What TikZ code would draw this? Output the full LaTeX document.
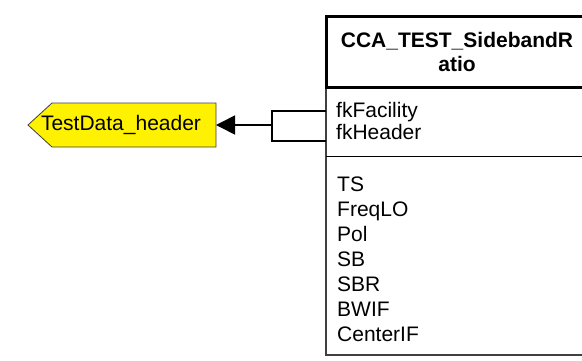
\documentclass[tikz,border=0pt]{standalone}
\usepackage{fontspec}
\setmainfont{Liberation Sans}
\usetikzlibrary{arrows.meta}
\begin{document}
\begin{tikzpicture}[x=1pt,y=-1pt,
  every node/.style={font=\fontsize{21}{24}\selectfont, inner sep=0pt},
  attr/.style={anchor=base west},
  tabline/.style={draw=black!75, line width=1.2pt},
  hdrline/.style={draw=black, line width=3pt},
  relline/.style={draw=black, line width=1.6pt},
]
\useasboundingbox (0,0) rectangle (582,360);
% table body
\draw[tabline] (326,87) -- (326,355) -- (592,355);
\draw[draw=black, line width=1pt] (326,156) -- (592,156);
\draw[hdrline] (592,16) -- (326,16) -- (326,87) -- (592,87);
\node[font=\bfseries\fontsize{21}{24}\selectfont, align=center, text width=250pt] (title) at (457,52) {CCA\_TEST\_SidebandR\\atio};
% key attributes
\node[attr] (fkf) at (336,117.5) {fkFacility};
\node[attr] (fkh) at (336,139) {fkHeader};
% attributes
\node[attr] (ts) at (337,191.5) {TS};
\node[attr] (freq) at (337,216.5) {FreqLO};
\node[attr] (pol) at (337,241.5) {Pol};
\node[attr] (sb) at (337,266.5) {SB};
\node[attr] (sbr) at (337,291.5) {SBR};
\node[attr] (bwif) at (337,316.5) {BWIF};
\node[attr] (cif) at (337,341.5) {CenterIF};
% referenced table
\draw[fill=yellow, draw=black!75, line width=0.8pt] (28,125) -- (52,103) -- (216,103) -- (216,147) -- (52,147) -- cycle;
\node (hdr) at (121,125) {TestData\_header};
\coordinate (hdrE) at (216,125);
% relationship
\coordinate (relT) at (326,111);
\coordinate (relB) at (326,141);
\coordinate (rel) at (272,125);
\draw[relline] (relT) -- (272,111) -- (272,141) -- (relB);
\draw[relline, -{Triangle[length=19pt,width=19pt]}] (rel) -- (hdrE);
\end{tikzpicture}
\end{document}
